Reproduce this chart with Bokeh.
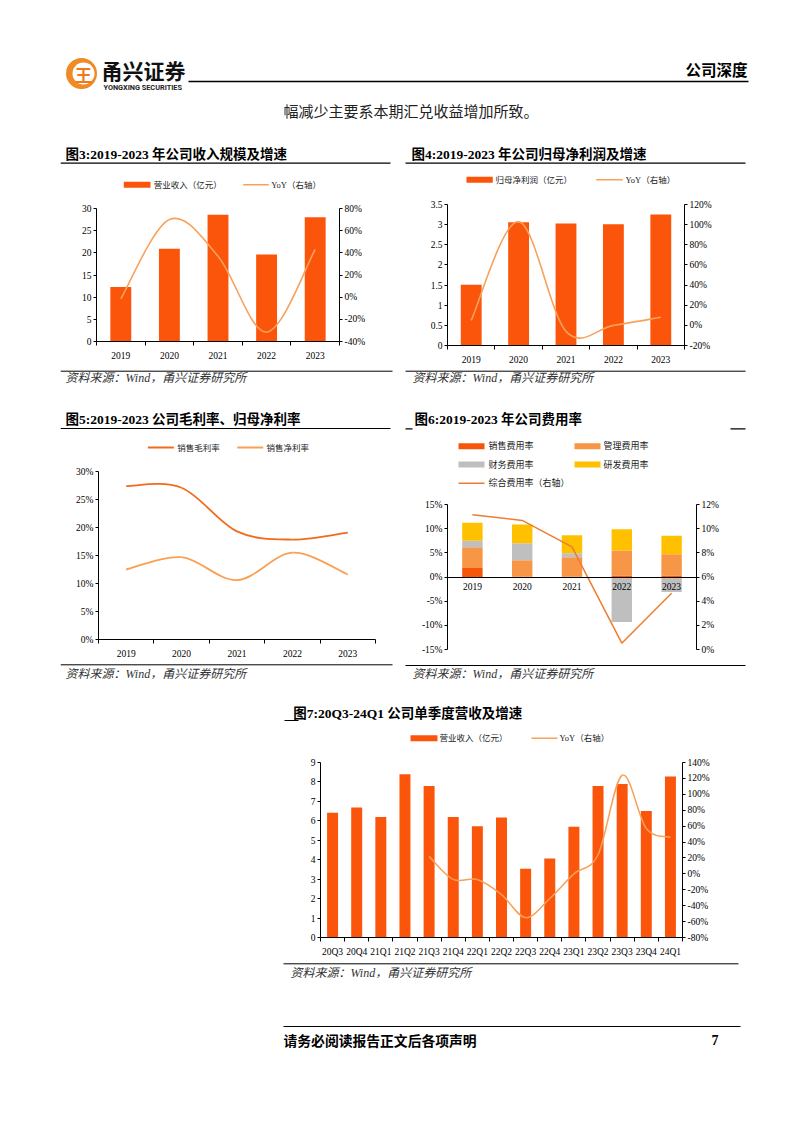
from bokeh.plotting import figure
from bokeh.models import (Range1d, LinearAxis, FixedTicker, PrintfTickFormatter,
                          NumeralTickFormatter, Spacer)
from bokeh.layouts import column, row
from bokeh.embed import file_html
from bokeh.resources import INLINE
from bokeh.core.properties import value

SERIF = "'Liberation Serif', 'Noto Sans CJK SC'"
CJK = "'Noto Sans CJK SC'"

# ---------------- data ----------------
years = ["2019", "2020", "2021", "2022", "2023"]
revenue = [12.3, 20.9, 28.6, 19.6, 28.0]
revenue_yoy = [-1.5, 70.0, 37.0, -31.5, 43.0]
profit = [1.51, 3.06, 3.03, 3.01, 3.25]
profit_yoy = [5.0, 103.0, -6.0, 0.0, 8.0]
gross_margin = [27.4, 27.1, 19.3, 17.85, 19.1]
net_margin = [12.5, 14.7, 10.6, 15.5, 11.6]
sales_rate = [1.85, 0.05, 0.05, 0.3, 0.3]
admin_rate = [4.3, 3.4, 4.03, 5.16, 4.4]
fin_rate = [1.35, 3.55, 0.82, -9.3, -3.1]
rd_rate = [3.75, 3.85, 3.73, 4.41, 3.86]
total_rate = [11.15, 10.68, 8.5, 0.52, 4.66]
quarters = ["20Q3", "20Q4", "21Q1", "21Q2", "21Q3", "21Q4", "22Q1", "22Q2",
            "22Q3", "22Q4", "23Q1", "23Q2", "23Q3", "23Q4", "24Q1"]
q_revenue = [6.42, 6.68, 6.2, 8.39, 7.79, 6.2, 5.72, 6.17, 3.54, 4.06, 5.69,
             7.79, 7.89, 6.51, 8.28]
q_yoy = [None, None, None, None, 22.0, -7.0, -7.0, -26.0, -55.0, -31.0, 0.0,
         24.0, 124.0, 57.0, 46.0]

BAR = "#FA550A"
YOY = "#F8A15A"


# ---------------- helpers ----------------
def panel(w, h):
    p = figure(width=w, height=h, x_range=Range1d(0, w), y_range=Range1d(h, 0),
               output_backend="svg", toolbar_location=None, min_border=0,
               x_axis_location=None, y_axis_location=None)
    p.xgrid.visible = False
    p.ygrid.visible = False
    p.outline_line_color = None
    p.background_fill_color = "white"
    p.border_fill_color = "white"
    return p


def txt(p, x, y, s, size, font=SERIF, style="normal", color="#000", align="left"):
    p.text(x=[x], y=[y], text=[s], text_font=value(font), text_font_size=size,
           text_font_style=style, text_color=color, text_align=align,
           text_baseline="middle")


def hline(p, x0, x1, y, w=1.0, color="#000"):
    p.segment(x0=[x0], y0=[y], x1=[x1], y1=[y], line_color=color, line_width=w)


def swatch(p, x0, x1, y, color, h=6):
    p.quad(left=[x0], right=[x1], top=[y - h / 2], bottom=[y + h / 2],
           fill_color=color, line_color=None)


def chart(w, h, xr, yr, ml, mr, mt, mb):
    p = figure(width=w, height=h, x_range=xr, y_range=yr, min_border_left=ml,
               min_border_right=mr, min_border_top=mt, min_border_bottom=mb,
               output_backend="svg", toolbar_location=None,
               x_axis_location=None, y_axis_location=None)
    p.xgrid.visible = False
    p.ygrid.visible = False
    p.outline_line_color = None
    p.background_fill_color = "white"
    p.border_fill_color = "white"
    return p


def style_axis(ax, ticks, fmt=None, minor=None, labels=None, tick_out=3,
               standoff=2, size="9.5px"):
    ax.ticker = FixedTicker(ticks=ticks, minor_ticks=minor or [])
    ax.axis_line_color = "#000"
    ax.axis_line_width = 1
    ax.major_tick_line_color = "#000" if tick_out else None
    ax.major_tick_out = tick_out
    ax.major_tick_in = 0
    ax.minor_tick_line_color = "#000" if minor else None
    ax.minor_tick_out = 4
    ax.minor_tick_in = 0
    ax.major_label_text_font = SERIF
    ax.major_label_text_font_size = size
    ax.major_label_text_color = "#000"
    ax.major_label_standoff = standoff
    if fmt is not None:
        ax.formatter = fmt
    if labels is not None:
        ax.major_label_overrides = labels


def smooth(p, xs, ys, **kw):
    n = len(xs)
    X0, Y0, X1, Y1, CX0, CY0, CX1, CY1 = ([] for _ in range(8))
    for i in range(n - 1):
        xm, ym = (xs[i - 1], ys[i - 1]) if i > 0 else (xs[i], ys[i])
        xp, yp = (xs[i + 2], ys[i + 2]) if i + 2 < n else (xs[i + 1], ys[i + 1])
        X0.append(xs[i]); Y0.append(ys[i]); X1.append(xs[i + 1]); Y1.append(ys[i + 1])
        CX0.append(xs[i] + (xs[i + 1] - xm) / 6.0)
        CY0.append(ys[i] + (ys[i + 1] - ym) / 6.0)
        CX1.append(xs[i + 1] - (xp - xs[i]) / 6.0)
        CY1.append(ys[i + 1] - (yp - ys[i]) / 6.0)
    p.bezier(x0=X0, y0=Y0, x1=X1, y1=Y1, cx0=CX0, cy0=CY0, cx1=CX1, cy1=CY1, **kw)


def cat_x_axis(p, cats, standoff=6, size="9.5px", minor=True):
    n = len(cats)
    ax = LinearAxis()
    style_axis(ax, list(range(n)),
               minor=[i - 0.5 for i in range(n + 1)] if minor else None,
               labels={i: c for i, c in enumerate(cats)}, tick_out=0,
               standoff=standoff, size=size)
    p.add_layout(ax, "below")
    return ax


idx5 = list(range(len(years)))
SRC = "资料来源：Wind，甬兴证券研究所"

# ---------------- header ----------------
hdr = panel(778, 132)
hdr.ellipse(x=[73], y=[65], width=31, height=31, fill_color="#F08A24", line_color=None)
hdr.ellipse(x=[75], y=[65], width=22, height=22, fill_color="white", line_color=None)
txt(hdr, 75, 66, "王", "17px", font=CJK, style="bold", color="#F07A1A", align="center")
txt(hdr, 93, 61, "甬兴证券", "21px", font=CJK, style="bold", color="#111")
txt(hdr, 95, 79, "YONGXING SECURITIES", "7.3px", font="Roboto", style="bold", color="#222")
hline(hdr, 180, 740, 73, w=1.5)
txt(hdr, 739, 60, "公司深度", "15.5px", font=CJK, style="bold", align="right")
txt(hdr, 275, 103, "幅减少主要系本期汇兑收益增加所致。", "15px", color="#222")

# ---------------- chart 3 ----------------
h3 = panel(335, 55)
txt(h3, 5, 14, "图3:2019-2023 年公司收入规模及增速", "13.5px", style="bold")
hline(h3, 0, 330, 22.7, w=1.2)
swatch(h3, 63.3, 90, 44.3, BAR)
txt(h3, 93.3, 44.3, "营业收入（亿元）", "8.5px", color="#222")
hline(h3, 182.7, 208.3, 44.3, w=1.5, color=YOY)
txt(h3, 210.7, 44.3, "YoY（右轴）", "8.5px", color="#222")

p3 = chart(335, 170, Range1d(-0.5, 4.5), Range1d(0, 30), 36, 56, 13, 24)
p3.extra_y_ranges = {"r": Range1d(-40, 80)}
p3.vbar(x=idx5, top=revenue, width=0.43, fill_color=BAR, line_color=None)
smooth(p3, idx5, revenue_yoy, y_range_name="r", line_color=YOY, line_width=1.6)
a = LinearAxis(); style_axis(a, list(range(0, 31, 5))); p3.add_layout(a, "left")
a = LinearAxis(y_range_name="r")
style_axis(a, list(range(-40, 81, 20)), fmt=PrintfTickFormatter(format="%d%%"))
p3.add_layout(a, "right")
cat_x_axis(p3, years)

f3 = panel(335, 27)
hline(f3, 0, 332, 5.7, w=1.0)
txt(f3, 5, 12.5, SRC, "12px", style="italic", color="#333")

# ---------------- chart 4 ----------------
h4 = panel(355, 54)
txt(h4, 16, 14, "图4:2019-2023 年公司归母净利润及增速", "13.5px", style="bold")
hline(h4, 10, 350, 22.7, w=1.2)
swatch(h4, 71, 97.3, 39.3, BAR)
txt(h4, 100, 39.3, "归母净利润（亿元）", "8.5px", color="#222")
hline(h4, 200.7, 227.3, 39.3, w=1.5, color=YOY)
txt(h4, 230, 39.3, "YoY（右轴）", "8.5px", color="#222")

p4 = chart(355, 175, Range1d(-0.5, 4.5), Range1d(0, 3.5), 52, 66, 10, 24)
p4.extra_y_ranges = {"r": Range1d(-20, 120)}
p4.vbar(x=idx5, top=profit, width=0.44, fill_color=BAR, line_color=None)
smooth(p4, idx5, profit_yoy, y_range_name="r", line_color=YOY, line_width=1.6)
a = LinearAxis()
style_axis(a, [i * 0.5 for i in range(8)], fmt=NumeralTickFormatter(format="0.[0]"))
p4.add_layout(a, "left")
a = LinearAxis(y_range_name="r")
style_axis(a, list(range(-20, 121, 20)), fmt=PrintfTickFormatter(format="%d%%"))
p4.add_layout(a, "right")
cat_x_axis(p4, years)

f4 = panel(355, 23)
hline(f4, 10, 350, 1.7, w=1.0)
txt(f4, 17, 8.5, SRC, "12px", style="italic", color="#333")

# ---------------- chart 5 ----------------
GM = "#F26A1B"
NM = "#F9A052"
h5 = panel(335, 69)
txt(h5, 5, 27, "图5:2019-2023 公司毛利率、归母净利率", "13.5px", style="bold")
hline(h5, 0, 330, 36, w=1.2)
hline(h5, 87.3, 113.3, 55, w=1.8, color=GM)
txt(h5, 116.7, 55, "销售毛利率", "8.5px", color="#222")
hline(h5, 176.7, 202.7, 55, w=1.8, color=NM)
txt(h5, 206, 55, "销售净利率", "8.5px", color="#222")

p5 = chart(335, 199, Range1d(-0.5, 4.5), Range1d(0, 30), 38, 20, 10, 21)
smooth(p5, idx5, gross_margin, line_color=GM, line_width=1.8)
smooth(p5, idx5, net_margin, line_color=NM, line_width=1.8)
a = LinearAxis()
style_axis(a, list(range(0, 31, 5)), fmt=PrintfTickFormatter(format="%d%%"))
p5.add_layout(a, "left")
cat_x_axis(p5, years)

f5 = panel(335, 30)
hline(f5, 0, 332, 4.3, w=1.0)
txt(f5, 5, 13, SRC, "12px", style="italic", color="#333")

# ---------------- chart 6 ----------------
C_SALES = "#F5560A"
C_ADMIN = "#F79646"
C_FIN = "#BFBFBF"
C_RD = "#FFC000"
C_TOT = "#ED7D31"
h6 = panel(355, 102)
txt(h6, 19, 27, "图6:2019-2023 年公司费用率", "13.5px", style="bold")
hline(h6, 10, 17, 36.3, w=1.2)
hline(h6, 335, 350, 36.3, w=1.2)
swatch(h6, 63, 89, 53.7, C_SALES)
txt(h6, 93, 53.7, "销售费用率", "9px", color="#222")
swatch(h6, 179, 205, 53.7, C_ADMIN)
txt(h6, 208, 53.7, "管理费用率", "9px", color="#222")
swatch(h6, 63, 89, 72, C_FIN)
txt(h6, 93, 72, "财务费用率", "9px", color="#222")
swatch(h6, 179, 205, 72, C_RD)
txt(h6, 208, 72, "研发费用率", "9px", color="#222")
hline(h6, 63, 89, 90.7, w=1.5, color=C_TOT)
txt(h6, 93, 90.7, "综合费用率（右轴）", "9px", color="#222")

p6 = chart(355, 168, Range1d(-0.5, 4.5), Range1d(-15, 15), 52, 54, 10, 13)
p6.extra_y_ranges = {"r": Range1d(0, 12)}
pos = [0.0] * 5
neg = [0.0] * 5
for series, col in [(sales_rate, C_SALES), (admin_rate, C_ADMIN),
                    (fin_rate, C_FIN), (rd_rate, C_RD)]:
    bots, tops = [], []
    for i, v in enumerate(series):
        if v >= 0:
            bots.append(pos[i]); tops.append(pos[i] + v); pos[i] += v
        else:
            bots.append(neg[i]); tops.append(neg[i] + v); neg[i] += v
    p6.vbar(x=idx5, bottom=bots, top=tops, width=0.41, fill_color=col, line_color=None)
p6.line(x=idx5, y=total_rate, y_range_name="r", line_color=C_TOT, line_width=1.5)
a = LinearAxis()
style_axis(a, list(range(-15, 16, 5)), fmt=PrintfTickFormatter(format="%d%%"))
p6.add_layout(a, "left")
a = LinearAxis(y_range_name="r")
style_axis(a, list(range(0, 13, 2)), fmt=PrintfTickFormatter(format="%d%%"))
p6.add_layout(a, "right")
ax6 = cat_x_axis(p6, years, standoff=6, minor=False)
ax6.fixed_location = 0

f6 = panel(355, 28)
hline(f6, 10, 350, 3, w=1.0)
txt(f6, 17, 11, SRC, "12px", style="italic", color="#333")

# ---------------- chart 7 ----------------
h7 = panel(460, 62)
txt(h7, 12.7, 22.7, "图7:20Q3-24Q1 公司单季度营收及增速", "13.5px", style="bold")
hline(h7, 4, 18, 30, w=1.2)
swatch(h7, 130, 157, 47.7, BAR)
txt(h7, 159, 47.7, "营业收入（亿元）", "8.5px", color="#222")
hline(h7, 251, 277, 47.7, w=1.5, color=YOY)
txt(h7, 279, 47.7, "YoY（右轴）", "8.5px", color="#222")

nq = len(quarters)
idxq = list(range(nq))
p7 = chart(460, 207, Range1d(-0.5, nq - 0.5), Range1d(0, 9), 40, 58, 10, 22)
p7.extra_y_ranges = {"r": Range1d(-80, 140)}
p7.vbar(x=idxq, top=q_revenue, width=0.455, fill_color=BAR, line_color=None)
vx = [i for i, v in zip(idxq, q_yoy) if v is not None]
vy = [v for v in q_yoy if v is not None]
smooth(p7, vx, vy, y_range_name="r", line_color=YOY, line_width=1.5)
a = LinearAxis(); style_axis(a, list(range(0, 10))); p7.add_layout(a, "left")
a = LinearAxis(y_range_name="r")
style_axis(a, list(range(-80, 141, 20)), fmt=PrintfTickFormatter(format="%d%%"))
p7.add_layout(a, "right")
cat_x_axis(p7, quarters, standoff=5, size="9.5px")

f7 = panel(460, 31)
hline(f7, 3, 458, 4.3, w=1.0)
txt(f7, 10, 13.7, SRC, "12px", style="italic", color="#333")

# ---------------- footer ----------------
ftr = panel(778, 70)
hline(ftr, 275, 732, 36, w=1.0)
txt(ftr, 275, 49, "请务必阅读报告正文后各项声明", "13.8px", font=CJK, style="bold")
txt(ftr, 703, 49, "7", "14px", style="bold")


def block(h, p, f):
    # each figure in its own row so that frames are not aligned across the column
    return column(row(h), row(p), row(f))


page = column(
    hdr,
    row(Spacer(width=52, height=10), block(h3, p3, f3), block(h4, p4, f4)),
    row(Spacer(width=52, height=10), block(h5, p5, f5), block(h6, p6, f6)),
    row(Spacer(width=272, height=10), block(h7, p7, f7)),
    ftr,
)
layout = row(Spacer(width=8, height=10), column(Spacer(width=10, height=8), page))

open("out.html", "w").write(file_html(layout, INLINE))
